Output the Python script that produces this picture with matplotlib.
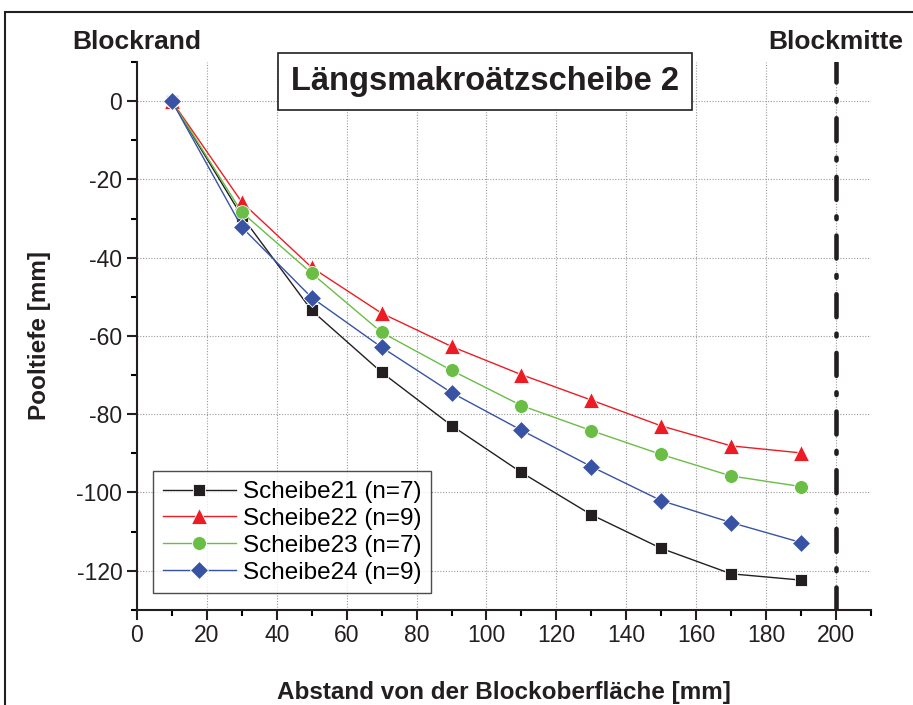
import matplotlib
matplotlib.use("Agg")
import matplotlib.pyplot as plt
from matplotlib.patches import Rectangle
from matplotlib.ticker import MultipleLocator

plt.rcParams['font.family'] = ['Liberation Sans', 'DejaVu Sans']
plt.rcParams['axes.unicode_minus'] = False

# Abstand von der Blockoberflaeche [mm]
ABSTAND = [10, 30, 50, 70, 90, 110, 130, 150, 170, 190]

# Pooltiefe [mm] per Scheibe
SCHEIBE21 = [0, -29.4, -53.5, -69.3, -82.9, -94.9, -105.7, -114.3, -120.8, -122.4]
SCHEIBE22 = [0, -25.8, -42.5, -54.2, -62.7, -69.9, -76.4, -83.0, -88.1, -89.9]
SCHEIBE23 = [0, -28.4, -44.0, -59.1, -68.8, -77.8, -84.2, -90.3, -95.8, -98.5]
SCHEIBE24 = [0, -32.2, -50.2, -62.9, -74.5, -84.1, -93.4, -102.1, -107.7, -112.8]

LABELS = ["Scheibe21 (n=7)", "Scheibe22 (n=9)", "Scheibe23 (n=7)", "Scheibe24 (n=9)"]
COLORS = ["#231f20", "#ed1c24", "#6abd45", "#3853a4"]
MARKERS = ["s", "^", "o", "D"]
SIZES = [9, 11, 10, 9]

BLOCKMITTE = 200


def plot_data():
    fig = plt.figure(figsize=(9.13, 7.05), dpi=100)
    ax = fig.add_axes([0.150, 0.135, 0.804, 0.777])

    series = [SCHEIBE21, SCHEIBE22, SCHEIBE23, SCHEIBE24]
    for values, label, color, marker, size in zip(series, LABELS, COLORS, MARKERS, SIZES):
        ax.plot(ABSTAND, values, color=color, lw=1.0, marker=marker, ms=size,
                markeredgecolor="white", markeredgewidth=0.6, label=label,
                zorder=3)

    ax.axvline(BLOCKMITTE, color="#231f20", lw=3.3, ls=(0, (5, 3.6, 0.6, 3.6)),
               dash_capstyle="round", zorder=4)

    ax.set_xlim(0, 210)
    ax.set_ylim(-130, 10)
    ax.xaxis.set_major_locator(MultipleLocator(20))
    ax.xaxis.set_minor_locator(MultipleLocator(10))
    ax.yaxis.set_major_locator(MultipleLocator(20))
    ax.yaxis.set_minor_locator(MultipleLocator(10))
    ax.tick_params(which="major", direction="out", length=7, width=1.5,
                   labelsize=16.5, colors="#231f20")
    ax.tick_params(which="minor", direction="out", length=4, width=1.5)

    ax.grid(True, which="major", color="#9a9a9a", ls=(0, (1, 1.5)), lw=0.8)
    for side in ["top", "right"]:
        ax.spines[side].set_visible(False)
    for side in ["left", "bottom"]:
        ax.spines[side].set_linewidth(1.5)
        ax.spines[side].set_color("#231f20")

    ax.set_xlabel("Abstand von der Blockoberfläche [mm]", fontsize=17.5,
                  fontweight="bold", labelpad=24, color="#231f20")
    ax.set_ylabel("Pooltiefe [mm]", fontsize=17.5, fontweight="bold",
                  labelpad=18, color="#231f20")

    ax.text(0, 1.015, "Blockrand", transform=ax.get_xaxis_transform(),
            ha="center", va="bottom", fontsize=19, fontweight="bold",
            color="#231f20")
    ax.text(BLOCKMITTE, 1.015, "Blockmitte", transform=ax.get_xaxis_transform(),
            ha="center", va="bottom", fontsize=19, fontweight="bold",
            color="#231f20")

    ax.text(0.474, 0.965, "Längsmakroätzscheibe 2", transform=ax.transAxes,
            ha="center", va="center", fontsize=23.5, fontweight="bold",
            color="#231f20",
            bbox=dict(boxstyle="square,pad=0.4", fc="white", ec="#231f20",
                      lw=1.2))

    legend = ax.legend(loc="lower left", bbox_to_anchor=(0.022, 0.03),
                       fontsize=17.5, frameon=True, fancybox=False,
                       handlelength=3.0, handletextpad=0.3, borderpad=0.4,
                       labelspacing=0.2, borderaxespad=0)
    legend.get_frame().set_edgecolor("#231f20")
    legend.get_frame().set_linewidth(1.0)

    fig.add_artist(Rectangle((0.006, -0.5), 2.0, 1.483, transform=fig.transFigure,
                             fill=False, ec="#231f20", lw=1.5))

    fig.savefig("out.png", dpi=100)


def main():
    plot_data()


if __name__ == "__main__":
    main()
